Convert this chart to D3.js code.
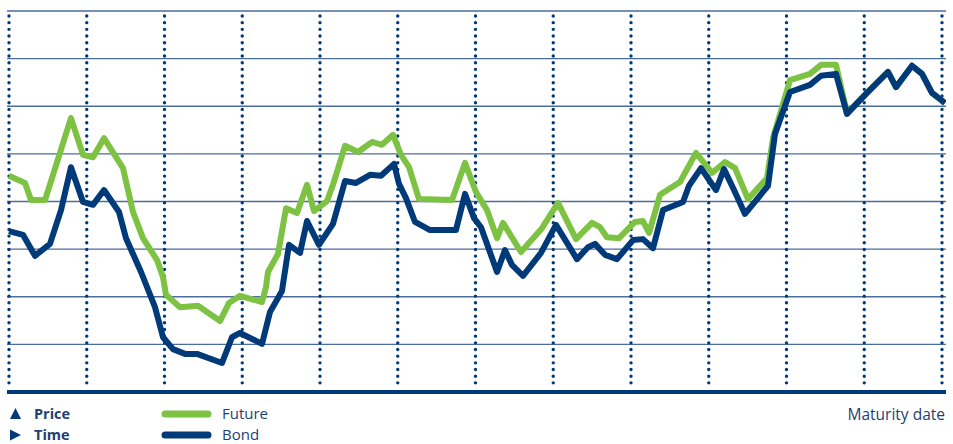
<!DOCTYPE html>
<html>
<head>
<meta charset="utf-8">
<script src="https://cdn.jsdelivr.net/npm/d3@7"></script>
<style>
  html, body { margin: 0; padding: 0; background: #fff; }
  svg { display: block; }
  text { font-family: "Open Sans", Lato, sans-serif; fill: #1d3f73; }
</style>
</head>
<body>
<svg id="chart" width="953" height="444"></svg>
<script>
// ---- data ----
const futureT = [0, 2.06, 2.83, 4.63, 7.97, 9.52, 10.80, 12.22, 14.66, 15.95, 17.23, 19.04, 19.81, 20.19, 21.99, 24.31, 27.14, 28.30, 29.71, 32.54, 33.05, 33.31, 34.60, 35.63, 37.04, 38.33, 39.23, 40.90, 41.67, 43.22, 44.89, 46.69, 47.97, 49.39, 50.42, 51.45, 52.73, 56.98, 58.65, 60.06, 61.48, 62.77, 63.54, 65.85, 68.55, 70.61, 72.93, 74.98, 76.01, 76.91, 78.46, 80.51, 81.54, 82.32, 83.73, 86.30, 88.36, 90.42, 92.09, 93.38, 95.05, 97.49, 98.26, 100.45, 103.02, 104.44, 106.37, 107.78, 110.35, 113.05, 114.08, 116.14, 117.43, 118.71, 120.39];
const futureV = [4.54, 4.39, 4.03, 4.03, 5.75, 4.98, 4.93, 5.33, 4.70, 3.78, 3.23, 2.77, 2.41, 2.04, 1.78, 1.81, 1.49, 1.87, 2.02, 1.89, 2.20, 2.52, 2.90, 3.86, 3.76, 4.35, 3.80, 4.01, 4.35, 5.17, 5.04, 5.25, 5.19, 5.40, 4.98, 4.72, 4.05, 4.03, 4.81, 4.20, 3.82, 3.23, 3.55, 2.94, 3.44, 3.97, 3.21, 3.55, 3.46, 3.25, 3.23, 3.57, 3.59, 3.34, 4.14, 4.41, 5.02, 4.60, 4.83, 4.70, 4.05, 4.49, 5.33, 6.55, 6.68, 6.87, 6.87, 5.86, 6.28, 6.72, 6.40, 6.85, 6.68, 6.28, 6.07];

const bondT = [0, 1.80, 3.34, 5.27, 6.69, 7.97, 9.52, 10.80, 12.22, 14.15, 15.05, 16.98, 18.78, 19.81, 21.09, 22.64, 24.18, 27.40, 28.68, 29.71, 32.54, 33.57, 35.11, 36.01, 37.43, 38.33, 39.87, 41.67, 43.22, 44.63, 46.43, 47.85, 49.52, 50.16, 51.06, 52.22, 54.15, 57.49, 58.65, 59.81, 60.71, 62.77, 63.79, 64.69, 66.11, 68.42, 70.35, 73.05, 74.47, 75.37, 76.66, 78.20, 80.26, 81.54, 82.83, 84.12, 86.69, 87.46, 89.00, 90.93, 91.96, 93.25, 94.66, 97.62, 98.52, 100.45, 103.02, 104.44, 106.37, 107.78, 110.35, 113.05, 114.08, 116.14, 117.43, 118.71, 120.39];
const bondV = [3.38, 3.30, 2.86, 3.11, 3.82, 4.72, 3.99, 3.93, 4.24, 3.78, 3.23, 2.52, 1.78, 1.15, 0.90, 0.80, 0.80, 0.61, 1.15, 1.24, 1.01, 1.68, 2.12, 3.09, 2.92, 3.59, 3.09, 3.53, 4.43, 4.39, 4.56, 4.54, 4.79, 4.37, 4.07, 3.57, 3.40, 3.40, 4.16, 3.65, 3.46, 2.52, 2.98, 2.67, 2.44, 2.92, 3.51, 2.79, 3.04, 3.11, 2.88, 2.79, 3.19, 3.21, 3.02, 3.82, 3.99, 4.33, 4.70, 4.24, 4.68, 4.24, 3.74, 4.33, 5.42, 6.30, 6.45, 6.64, 6.68, 5.84, 6.28, 6.72, 6.40, 6.85, 6.68, 6.28, 6.07];

const gridValues = [1, 2, 3, 4, 5, 6, 7, 8];
const timeTicks = [0, 10, 20, 30, 40, 50, 60, 70, 80, 90, 100, 110, 120];
const seriesNames = ["Future", "Bond"];
const axisLabels = ["Price", "Time"];
const xAxisTitle = "Maturity date";

// ---- drawing ----
const svg = d3.select("#chart");
const navy = "#003a78";
const green = "#7dc242";
const gridColor = "#4a6d9b";

const x = d3.scaleLinear().domain([0, 120]).range([9, 942]);
const y = d3.scaleLinear().domain([0, 8]).range([392, 11]);

// horizontal grid lines
svg.append("g").selectAll("line").data(gridValues).join("line")
  .attr("x1", 7).attr("x2", 946)
  .attr("y1", d => y(d)).attr("y2", d => y(d))
  .attr("stroke", gridColor).attr("stroke-width", 1.3);

// vertical dotted lines
svg.append("g").selectAll("line").data(timeTicks).join("line")
  .attr("x1", d => x(d)).attr("x2", d => x(d))
  .attr("y1", y(8) + 5).attr("y2", y(0) - 8)
  .attr("stroke", navy).attr("stroke-width", 3.4)
  .attr("stroke-linecap", "round")
  .attr("stroke-dasharray", "0 6.67");

// bottom axis line
svg.append("line")
  .attr("x1", 7).attr("x2", 946)
  .attr("y1", y(0)).attr("y2", y(0))
  .attr("stroke", navy).attr("stroke-width", 4);

const line = d3.line().x(d => x(d[0])).y(d => y(d[1]));
const futureData = futureT.map((t, i) => [t, futureV[i]]);
const bondData = bondT.map((t, i) => [t, bondV[i]]);

svg.append("defs").append("clipPath").attr("id", "clip")
  .append("rect").attr("x", 0).attr("y", 0).attr("width", 946).attr("height", 390);

svg.append("path").datum(futureData)
  .attr("clip-path", "url(#clip)")
  .attr("d", line).attr("fill", "none")
  .attr("stroke", green).attr("stroke-width", 6)
  .attr("stroke-linejoin", "round");

svg.append("path").datum(bondData)
  .attr("clip-path", "url(#clip)")
  .attr("d", line).attr("fill", "none")
  .attr("stroke", navy).attr("stroke-width", 6)
  .attr("stroke-linejoin", "round");

// legend rows
const rowY = [418.5, 439.5];

// legend: axis markers
const lg = svg.append("g");
lg.append("path")
  .attr("d", "M10,419 L15.5,408 L21,419 Z").attr("fill", navy);
lg.append("path")
  .attr("d", "M10,429.5 L21,435 L10,440.5 Z").attr("fill", navy);
lg.selectAll("text.ax").data(axisLabels).join("text")
  .attr("class", "ax")
  .attr("x", 34).attr("y", (d, i) => rowY[i])
  .attr("font-size", 14.5).attr("font-weight", "bold")
  .text(d => d);

// legend: series
const seriesColors = [green, navy];
lg.selectAll("line.sw").data(seriesNames).join("line")
  .attr("class", "sw")
  .attr("x1", 165).attr("x2", 208)
  .attr("y1", (d, i) => rowY[i] - 4.5).attr("y2", (d, i) => rowY[i] - 4.5)
  .attr("stroke", (d, i) => seriesColors[i]).attr("stroke-width", 7)
  .attr("stroke-linecap", "round");
lg.selectAll("text.sn").data(seriesNames).join("text")
  .attr("class", "sn")
  .attr("x", 222).attr("y", (d, i) => rowY[i])
  .attr("font-size", 15)
  .text(d => d);

svg.append("text")
  .attr("x", 945).attr("y", 419.5)
  .attr("text-anchor", "end")
  .attr("font-size", 15.5)
  .text(xAxisTitle);
</script>
</body>
</html>
